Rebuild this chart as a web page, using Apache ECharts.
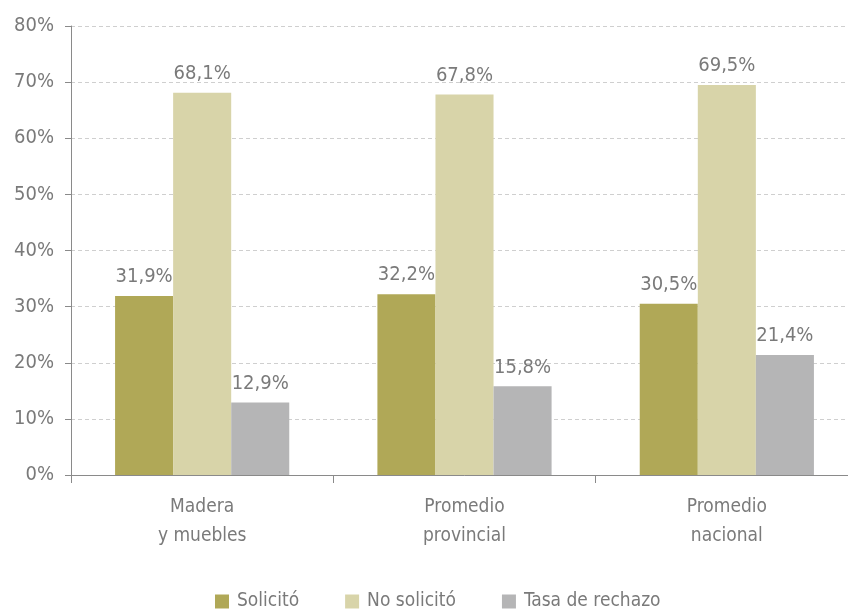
<!DOCTYPE html>
<html><head><meta charset="utf-8">
<script src="https://cdn.jsdelivr.net/npm/echarts@6/dist/echarts.min.js"></script>
<style>html,body{margin:0;padding:0;background:#fff;overflow:hidden}#c{width:859px;height:611px}</style>
</head><body><div id="c"></div>
<script>
const categories = ['Madera\ny muebles', 'Promedio\nprovincial', 'Promedio\nnacional'];
const solicito = [31.9, 32.2, 30.5];
const noSolicito = [68.1, 67.8, 69.5];
const tasaRechazo = [12.9, 15.8, 21.4];
const seriesNames = ['Solicitó', 'No solicitó', 'Tasa de rechazo'];
const colors = ['#b0a857', '#d8d4a9', '#b5b5b6'];
const FONT = '"Liberation Sans Narrow", "DejaVu Sans Condensed", sans-serif';
const TXT = '#7a7a7a';
const chart = echarts.init(document.getElementById('c'));
const fmt = v => v.toFixed(1).replace('.', ',') + '%';
function mk(name, data, color) {
  return {
    name, type: 'bar', data, barGap: '0%', barCategoryGap: '33.6%',
    itemStyle: { color },
    label: { show: true, position: 'top', distance: 9, color: TXT, fontFamily: FONT, fontSize: 20,
      formatter: p => fmt(p.value) }
  };
}
chart.setOption({
  animation: false,
  textStyle: { fontFamily: FONT },
  grid: { left: 71, width: 787, top: 26, height: 449, containLabel: false },
  legend: {
    top: 587, left: 210, itemWidth: 14, itemHeight: 14, itemGap: 46,
    textStyle: { color: TXT, fontSize: 19, fontFamily: FONT, padding: [0, 0, 0, 3] },
    data: seriesNames.map((n, i) => ({ name: n, icon: 'rect', itemStyle: { color: colors[i] } }))
  },
  xAxis: {
    type: 'category', data: categories,
    axisLine: { lineStyle: { color: '#8a8a8a', width: 1 } },
    axisTick: { show: true, length: 8, lineStyle: { color: '#8a8a8a' } },
    axisLabel: { color: TXT, fontSize: 19, lineHeight: 29, margin: 18, fontFamily: FONT }
  },
  yAxis: {
    type: 'value', min: 0, max: 80, interval: 10,
    axisLine: { show: true, lineStyle: { color: '#8a8a8a', width: 1 } },
    axisTick: { show: true, length: 6, lineStyle: { color: '#8a8a8a' } },
    splitLine: { lineStyle: { color: '#cfcfcf', type: [4, 3] } },
    axisLabel: { color: TXT, fontSize: 20, margin: 17, fontFamily: FONT, formatter: v => v + '%' }
  },
  series: [mk(seriesNames[0], solicito, colors[0]), mk(seriesNames[1], noSolicito, colors[1]), mk(seriesNames[2], tasaRechazo, colors[2])]
});
</script></body></html>
